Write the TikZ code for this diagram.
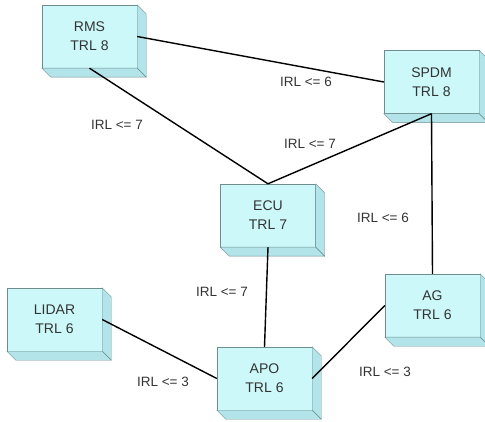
\documentclass[tikz,border=0pt]{standalone}
\usepackage{fontspec}
\setmainfont{Liberation Sans}
\usetikzlibrary{calc}

\definecolor{boxfill}{HTML}{CCF8FA}
\definecolor{boxside}{HTML}{B2E4EA}
\definecolor{boxline}{HTML}{6E8E8E}
\definecolor{txtgray}{HTML}{333333}

\tikzset{
  trlbox/.style={draw=boxline, fill=boxfill, minimum width=95pt, minimum height=63pt,
    inner sep=0pt, align=center, text=txtgray, font=\fontsize{14}{19}\selectfont},
  irl/.style={text=txtgray, inner sep=1pt, font=\fontsize{13.5}{16}\selectfont},
  link/.style={line width=1.4pt}
}

\begin{document}
\begin{tikzpicture}[x=1pt,y=-1pt]
\useasboundingbox (0,0) rectangle (485,422);

% subsystems
\node[trlbox] (rms)   at (89.5,36.5)  {RMS\\TRL 8};
\node[trlbox] (spdm)  at (431.5,82)   {SPDM\\TRL 8};
\node[trlbox] (ecu)   at (268,215.5)  {ECU\\TRL 7};
\node[trlbox] (lidar) at (54.5,319.5) {LIDAR\\TRL 6};
\node[trlbox] (apo)   at (264.5,378.5){APO\\TRL 6};
\node[trlbox] (ag)    at (432.5,305.5){AG\\TRL 6};

% depth of the boxes
\foreach \n in {rms,spdm,ecu,lidar,apo,ag}{
  \filldraw[draw=boxline, fill=boxside] (\n.north east) -- ++(9,9)
    -- ($(\n.south east)+(9,9)$) -- (\n.south east) -- cycle;
  \filldraw[draw=boxline, fill=boxside] (\n.south west) -- (\n.south east)
    -- ++(9,9) -- ($(\n.south west)+(9,9)$) -- cycle;
}

% interfaces
\draw[link] (rms.east)   -- (spdm.west);
\draw[link] (rms.south)  -- (ecu.north);
\draw[link] (spdm.south) -- (ecu.north);
\draw[link] (spdm.south) -- (ag.north);
\draw[link] (ecu.south)  -- (apo.north);
\draw[link] (lidar.east) -- (apo.west);
\draw[link] (apo.east)   -- (ag.west);

% readiness levels
\node[irl] (irl1) at (306,82)  {IRL <= 6};
\node[irl] (irl2) at (117,125) {IRL <= 7};
\node[irl] (irl3) at (310,144) {IRL <= 7};
\node[irl] (irl4) at (383,218) {IRL <= 6};
\node[irl] (irl5) at (222,292) {IRL <= 7};
\node[irl] (irl6) at (163,382) {IRL <= 3};
\node[irl] (irl7) at (385,372) {IRL <= 3};
\end{tikzpicture}
\end{document}
